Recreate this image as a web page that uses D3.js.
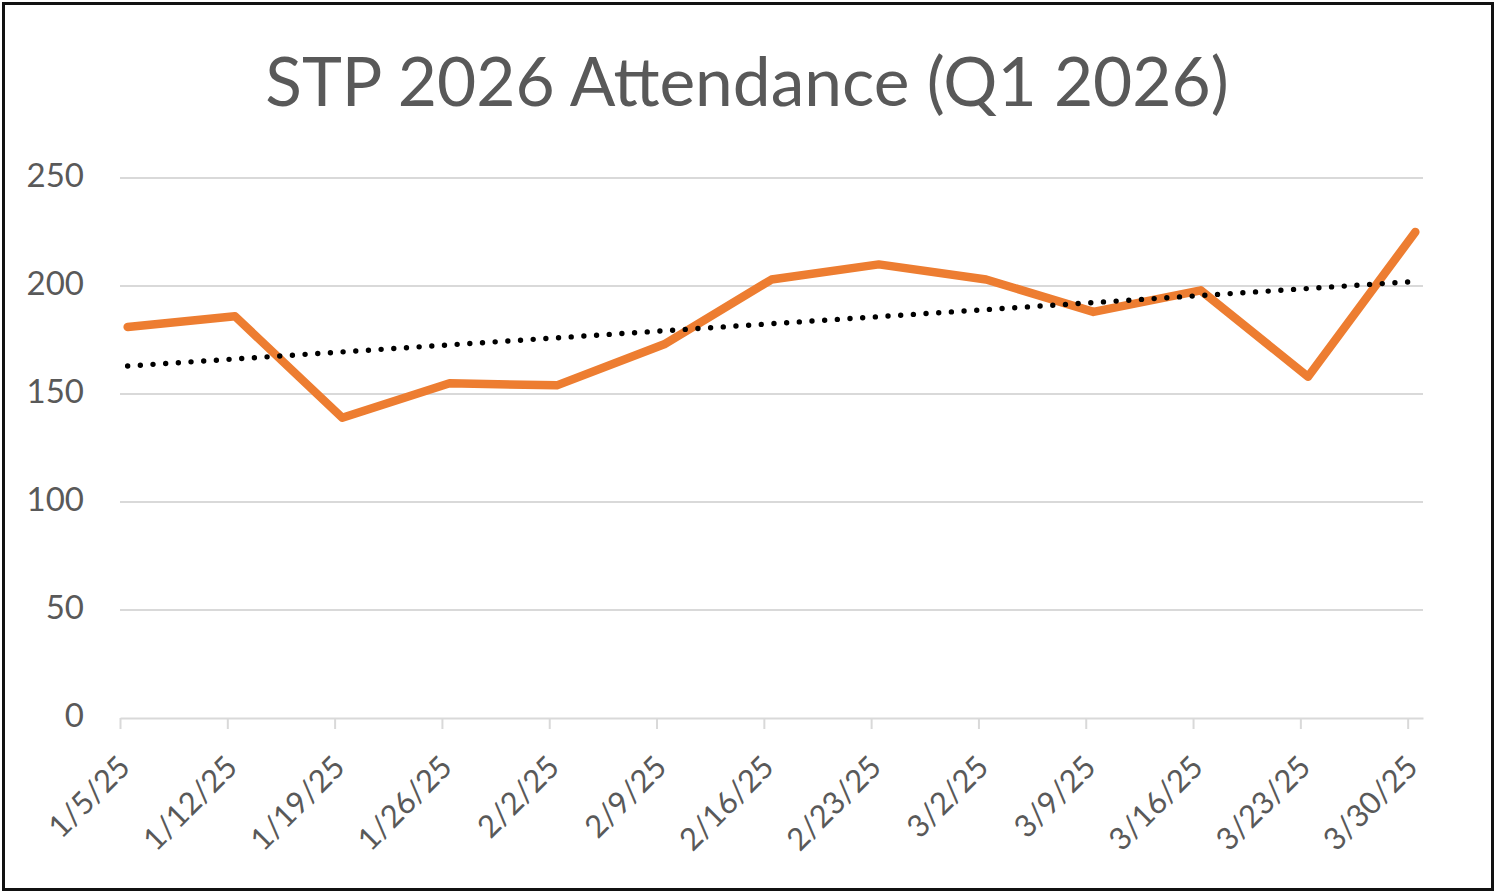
<!DOCTYPE html>
<html>
<head>
<meta charset="utf-8">
<script src="https://cdn.jsdelivr.net/npm/d3@7"></script>
<style>
  html, body { margin: 0; padding: 0; background: #fff; }
  svg { display: block; font-family: Lato, "Open Sans", sans-serif; }
</style>
</head>
<body>
<div id="chart"></div>
<script>
// Weekly attendance line with linear trend, Excel-style date axis

const weekLabels = ["1/5/25", "1/12/25", "1/19/25", "1/26/25", "2/2/25", "2/9/25", "2/16/25",
  "2/23/25", "3/2/25", "3/9/25", "3/16/25", "3/23/25", "3/30/25"];
const attendance = [181, 186, 139, 155, 154, 173, 203, 210, 203, 188, 198, 158, 225];
const yTicks = [0, 50, 100, 150, 200, 250];
const chartTitle = "STP 2026 Attendance (Q1 2026)";

const w = 1500, h = 895;
const p_t = 178, p_b = 718, p_l = 120, p_r = 1423; // plot box edges

const svg = d3.select("#chart").append("svg")
  .attr("width", w)
  .attr("height", h);

// outer border
svg.append("rect")
  .attr("x", 3.5).attr("y", 3.5)
  .attr("width", 1489).attr("height", 886)
  .attr("fill", "#fff")
  .attr("stroke", "#111")
  .attr("stroke-width", 3);

const parseDay = d3.timeParse("%m/%d/%y");
const days = weekLabels.map(parseDay);
const dayMs = 24 * 3600 * 1000;

// date axis in day units: each point sits at the middle of its day
const xScale = d3.scaleTime()
  .domain([days[0], new Date(+days[days.length - 1] + dayMs)])
  .range([p_l, p_r]);
const xMid = d => xScale(new Date(+d + dayMs / 2));

const yScale = d3.scaleLinear()
  .domain([0, 250])
  .range([p_b, p_t]);

// gridlines
svg.append("g")
  .selectAll("line")
  .data(yTicks.filter(v => v > 0))
  .join("line")
  .attr("x1", p_l).attr("x2", p_r)
  .attr("y1", d => yScale(d)).attr("y2", d => yScale(d))
  .attr("stroke", "#d9d9d9")
  .attr("stroke-width", 2);

// y labels
svg.append("g")
  .selectAll("text")
  .data(yTicks)
  .join("text")
  .attr("x", 84)
  .attr("y", d => yScale(d) + 9)
  .attr("text-anchor", "end")
  .attr("fill", "#595959")
  .style("font-size", "33px")
  .text(d => d);

// x axis with tick marks below
const xAxis = svg.append("g")
  .attr("transform", `translate(0 ${p_b})`)
  .call(d3.axisBottom(xScale).tickValues(days).tickSize(11).tickSizeOuter(0).tickFormat(""));
xAxis.select(".domain").attr("stroke", "#d9d9d9").attr("stroke-width", 2);
xAxis.selectAll(".tick line").attr("stroke", "#d9d9d9").attr("stroke-width", 2);

svg.append("g")
  .selectAll("text")
  .data(days)
  .join("text")
  .attr("transform", (d, i) => `translate(${xScale(d) + 12} 769) rotate(-45)`)
  .attr("text-anchor", "end")
  .attr("fill", "#595959")
  .style("font-size", "31px")
  .text((d, i) => weekLabels[i]);

// attendance line
const line = d3.line()
  .x((d, i) => xMid(days[i]))
  .y(d => yScale(d));

svg.append("path")
  .datum(attendance)
  .attr("d", line)
  .attr("fill", "none")
  .attr("stroke", "#ed7d31")
  .attr("stroke-width", 8.5)
  .attr("stroke-linejoin", "round")
  .attr("stroke-linecap", "round");

// linear trend (least squares on week index)
const n = attendance.length;
const mx = d3.mean(d3.range(n));
const my = d3.mean(attendance);
const slope = d3.sum(attendance, (v, i) => (i - mx) * (v - my)) / d3.sum(d3.range(n), i => (i - mx) ** 2);
const trendAt = i => my + slope * (i - mx);

svg.append("line")
  .attr("x1", xMid(days[0])).attr("y1", yScale(trendAt(0)))
  .attr("x2", xMid(days[n - 1])).attr("y2", yScale(trendAt(n - 1)))
  .attr("stroke", "#000")
  .attr("stroke-width", 5.4)
  .attr("stroke-linecap", "round")
  .attr("stroke-dasharray", "0 12.7");

// title, sized to the reference width
const title = svg.append("text")
  .attr("x", 747)
  .attr("y", 106)
  .attr("text-anchor", "middle")
  .attr("fill", "#595959")
  .style("font-size", "64px")
  .text(chartTitle);
const tw = title.node().getComputedTextLength();
title.style("font-size", (64 * 963 / tw).toFixed(1) + "px");
</script>
</body>
</html>
